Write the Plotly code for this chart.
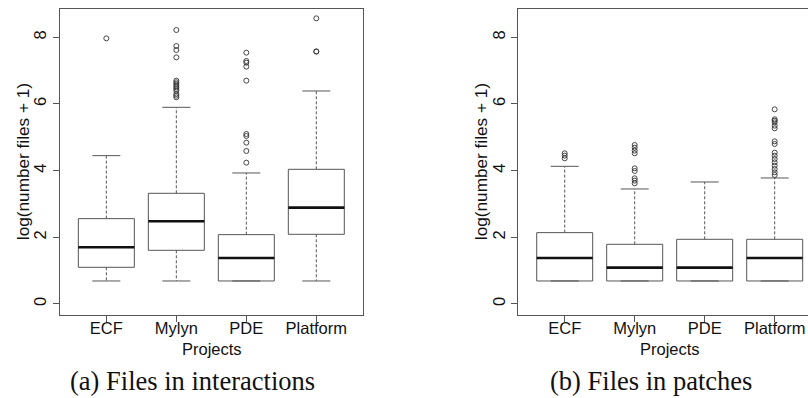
import plotly.graph_objects as go

W, H = 808, 398

projects = ["ECF", "Mylyn", "PDE", "Platform"]
positions = [1, 2, 3, 4]

# (a) Files in interactions  -- log(number files + 1)
a_q1 = [1.10, 1.61, 0.69, 2.09]
a_median = [1.70, 2.48, 1.38, 2.89]
a_q3 = [2.56, 3.32, 2.08, 4.04]
a_lower = [0.69, 0.69, 0.69, 0.69]
a_upper = [4.45, 5.90, 3.93, 6.39]
a_outliers = [
    [7.97],
    [8.22, 7.74, 7.62, 7.40, 6.70, 6.65, 6.60, 6.55, 6.50, 6.45, 6.40, 6.30, 6.25, 6.20],
    [7.54, 7.29, 7.24, 7.12, 6.70, 5.10, 5.04, 4.84, 4.59, 4.24],
    [8.57, 7.58, 7.57],
]

# (b) Files in patches
b_q1 = [0.69, 0.69, 0.69, 0.69]
b_median = [1.38, 1.09, 1.09, 1.38]
b_q3 = [2.14, 1.79, 1.94, 1.94]
b_lower = [0.69, 0.69, 0.69, 0.69]
b_upper = [4.13, 3.45, 3.66, 3.78]
b_outliers = [
    [4.52, 4.45, 4.37],
    [4.77, 4.69, 4.60, 4.52, 4.07, 3.99, 3.77, 3.70, 3.62],
    [],
    [5.84, 5.54, 5.50, 5.45, 5.35, 5.27, 4.88, 4.80, 4.54, 4.45, 4.35, 4.25,
     4.15, 4.05, 3.95, 3.87],
]

y_ticks = [0, 2, 4, 6, 8]
y_title = "log(number files + 1)"
x_title = "Projects"
captions = ["(a) Files in interactions", "(b) Files in patches"]

LINE = "#555555"
BOXW = 0.8
CAPW = 0.4
SANS = "Liberation Sans, Arial, sans-serif"
SERIF = "Liberation Serif, Times New Roman, serif"
FS = 16.5

fig = go.Figure()


def add_panel(xa, ya, q1, med, q3, lo, up, outs):
    xref = "x" if xa == "xaxis" else "x2"
    yref = "y" if ya == "yaxis" else "y2"
    # dashed whiskers
    wx, wy = [], []
    for p, a, b, c, d in zip(positions, q1, q3, lo, up):
        wx += [p, p, None, p, p, None]
        wy += [b, d, None, a, c, None]
    fig.add_trace(go.Scatter(x=wx, y=wy, mode="lines", xaxis=xref, yaxis=yref,
                             line=dict(color=LINE, width=1, dash="3px,2px"),
                             hoverinfo="skip", showlegend=False))
    # whisker caps
    cx, cy = [], []
    for p, c, d in zip(positions, lo, up):
        cx += [p - CAPW / 2, p + CAPW / 2, None, p - CAPW / 2, p + CAPW / 2, None]
        cy += [d, d, None, c, c, None]
    fig.add_trace(go.Scatter(x=cx, y=cy, mode="lines", xaxis=xref, yaxis=yref,
                             line=dict(color=LINE, width=1),
                             hoverinfo="skip", showlegend=False))
    # boxes
    fig.add_trace(go.Box(x=positions, q1=q1, median=med, q3=q3,
                         lowerfence=q1, upperfence=q3,
                         width=BOXW, whiskerwidth=0,
                         fillcolor="white", line=dict(color=LINE, width=1),
                         xaxis=xref, yaxis=yref, showlegend=False,
                         hoverinfo="skip"))
    # thick medians
    mx, my = [], []
    for p, m in zip(positions, med):
        mx += [p - BOXW / 2, p + BOXW / 2, None]
        my += [m, m, None]
    fig.add_trace(go.Scatter(x=mx, y=my, mode="lines", xaxis=xref, yaxis=yref,
                             line=dict(color="#111111", width=2.6),
                             hoverinfo="skip", showlegend=False))
    # outliers
    ox, oy = [], []
    for p, vals in zip(positions, outs):
        ox += [p] * len(vals)
        oy += vals
    fig.add_trace(go.Scatter(x=ox, y=oy, mode="markers", xaxis=xref, yaxis=yref,
                             marker=dict(symbol="circle-open", size=5,
                                         color="#333333", line=dict(width=0.9)),
                             hoverinfo="skip", showlegend=False))


add_panel("xaxis", "yaxis", a_q1, a_median, a_q3, a_lower, a_upper, a_outliers)
add_panel("xaxis2", "yaxis2", b_q1, b_median, b_q3, b_lower, b_upper, b_outliers)

# geometry (pixels)
L1, R1 = 60.0, 363.0
L2 = 518.3
TOP, BOT = 9.0, 315.3
px_per_x = (R1 - L1) / (4.667 - 0.338)

ydom = [(H - BOT) / H, (H - TOP) / H]
common_x = dict(showgrid=False, zeroline=False, showline=True, linecolor=LINE,
                linewidth=1, mirror=True, ticks="outside", ticklen=6,
                tickcolor=LINE, tickvals=positions, ticktext=projects,
                ticklabelstandoff=-8,
                tickfont=dict(family=SANS, size=FS, color="#111111"))
common_y = dict(showgrid=False, zeroline=False, showline=True, linecolor=LINE,
                linewidth=1, ticks="outside", ticklen=6, tickcolor=LINE,
                tickvals=y_ticks, tickangle=-90, range=[-0.34, 8.85],
                domain=ydom,
                tickfont=dict(family=SANS, size=FS, color="#111111"))

fig.update_layout(
    width=W, height=H, margin=dict(l=0, r=0, t=0, b=0),
    paper_bgcolor="white", plot_bgcolor="white",
    xaxis=dict(common_x, domain=[L1 / W, R1 / W], range=[0.338, 4.667], anchor="y"),
    xaxis2=dict(common_x, domain=[L2 / W, 1.0],
                range=[0.337, 0.337 + (W - L2) / px_per_x], anchor="y2"),
    yaxis=dict(common_y, mirror=True, anchor="x"),
    yaxis2=dict(common_y, mirror=False, anchor="x2"),
)

ymid = (H - (TOP + BOT) / 2) / H
for xc in [23.0, 481.0]:
    fig.add_annotation(text=y_title, xref="paper", yref="paper", x=xc / W, y=ymid,
                       xanchor="center", yanchor="middle", textangle=-90,
                       showarrow=False, font=dict(family=SANS, size=17.2, color="#111111"))

for xc in [(L1 + R1) / 2, 669.7]:
    fig.add_annotation(text=x_title, xref="paper", yref="paper", x=xc / W,
                       y=(H - 349) / H, xanchor="center", yanchor="middle",
                       showarrow=False, font=dict(family=SANS, size=FS, color="#111111"))

for xc, cap in zip([192.5, 650.7], captions):
    fig.add_annotation(text=cap, xref="paper", yref="paper", x=xc / W,
                       y=(H - 381) / H, xanchor="center", yanchor="middle",
                       showarrow=False, font=dict(family=SERIF, size=26.5, color="#111111"))

fig.write_html("out.html")
